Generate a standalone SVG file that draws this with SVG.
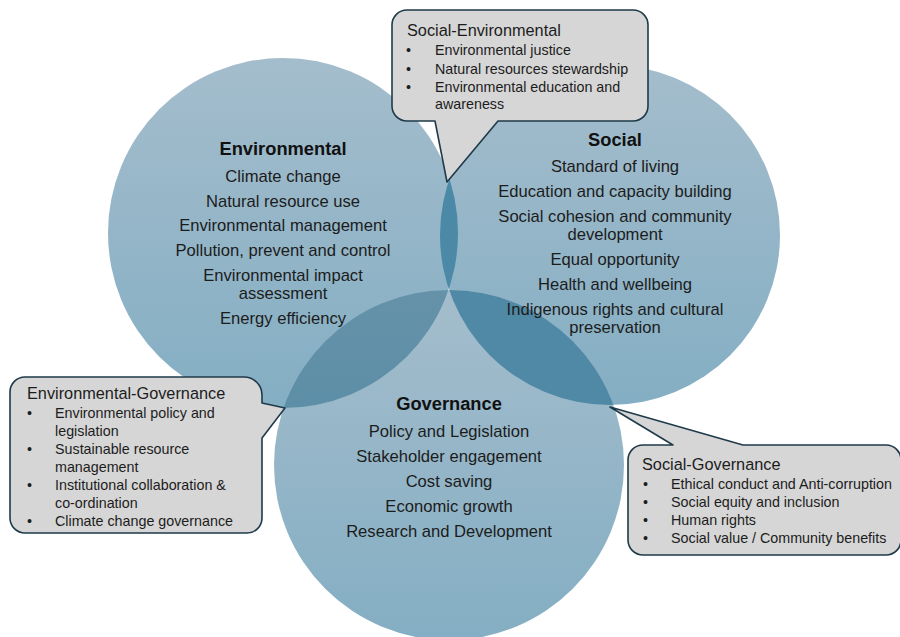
<svg xmlns="http://www.w3.org/2000/svg" width="900" height="637" viewBox="0 0 900 637">
<defs>
<linearGradient id="gc" x1="0" y1="0" x2="0" y2="1">
<stop offset="0" stop-color="#a4bdcc"/>
<stop offset="1" stop-color="#84aec3"/>
</linearGradient>
<linearGradient id="gl" x1="0" y1="0" x2="0" y2="1">
<stop offset="0" stop-color="#6592a9"/>
<stop offset="1" stop-color="#4c87a3"/>
</linearGradient>
<clipPath id="cEnv"><circle cx="283" cy="233" r="175"/></clipPath>
<clipPath id="cSoc"><circle cx="610" cy="235" r="170"/></clipPath>
<clipPath id="cGov"><circle cx="449" cy="465" r="175"/></clipPath>
<style>
text{font-family:"Liberation Sans",Arial,sans-serif;fill:#1c1c1c}
.h{font-size:18.3px;font-weight:bold;text-anchor:middle;fill:#111}
.c{font-size:16.6px;text-anchor:middle}
.t{font-size:16.3px}
.b{font-size:14.3px}
.call{fill:#d6d6d6;stroke:#1f3a4a;stroke-width:1.6;stroke-linejoin:round}
</style>
</defs>
<rect width="900" height="637" fill="#ffffff"/>
<g id="circles">
<circle id="env-circle" cx="283" cy="233" r="175" fill="url(#gc)"/>
<circle id="soc-circle" cx="610" cy="235" r="170" fill="url(#gc)"/>
<circle id="gov-circle" cx="449" cy="465" r="175" fill="url(#gc)"/>
<g clip-path="url(#cEnv)"><circle cx="610" cy="235" r="170" fill="#4b89a6"/></g>
<g clip-path="url(#cEnv)"><circle cx="449" cy="465" r="175" fill="url(#gl)"/></g>
<g clip-path="url(#cSoc)"><circle cx="449" cy="465" r="175" fill="#5089a5"/></g>
</g>
<g id="environmental">
<text class="h" x="283" y="155">Environmental</text>
<text class="c" x="283" y="182">Climate change</text>
<text class="c" x="283" y="207">Natural resource use</text>
<text class="c" x="283" y="231">Environmental management</text>
<text class="c" x="283" y="256">Pollution, prevent and control</text>
<text class="c" x="283" y="281">Environmental impact</text>
<text class="c" x="283" y="299">assessment</text>
<text class="c" x="283" y="324">Energy efficiency</text>
</g>
<g id="social">
<text class="h" x="615" y="146">Social</text>
<text class="c" x="615" y="172">Standard of living</text>
<text class="c" x="615" y="197">Education and capacity building</text>
<text class="c" x="615" y="222">Social cohesion and community</text>
<text class="c" x="615" y="240">development</text>
<text class="c" x="615" y="265">Equal opportunity</text>
<text class="c" x="615" y="290">Health and wellbeing</text>
<text class="c" x="615" y="315">Indigenous rights and cultural</text>
<text class="c" x="615" y="333">preservation</text>
</g>
<g id="governance">
<text class="h" x="449" y="410">Governance</text>
<text class="c" x="449" y="437">Policy and Legislation</text>
<text class="c" x="449" y="462">Stakeholder engagement</text>
<text class="c" x="449" y="487">Cost saving</text>
<text class="c" x="449" y="512">Economic growth</text>
<text class="c" x="449" y="537">Research and Development</text>
</g>
<g id="social-environmental">
<path class="call" d="M407,10 H633 A15,15 0 0 1 648,25 V106 A15,15 0 0 1 633,121 H498 L447,182 L435,121 H407 A15,15 0 0 1 392,106 V25 A15,15 0 0 1 407,10 Z"/>
<text class="t" x="407" y="36">Social-Environmental</text>
<text class="b" x="406" y="55">•</text><text class="b" x="435" y="55">Environmental justice</text>
<text class="b" x="406" y="74">•</text><text class="b" x="435" y="74">Natural resources stewardship</text>
<text class="b" x="406" y="92">•</text><text class="b" x="435" y="92">Environmental education and</text>
<text class="b" x="435" y="109">awareness</text>
</g>
<g id="environmental-governance">
<path class="call" d="M25,377 H244 A18,18 0 0 1 262,395 V403 L285,408 L262,438 V518 A15,15 0 0 1 247,533 H25 A15,15 0 0 1 10,518 V392 A15,15 0 0 1 25,377 Z"/>
<text class="t" x="27" y="399">Environmental-Governance</text>
<text class="b" x="27" y="418">•</text><text class="b" x="55" y="418">Environmental policy and</text>
<text class="b" x="55" y="436">legislation</text>
<text class="b" x="27" y="454">•</text><text class="b" x="55" y="454">Sustainable resource</text>
<text class="b" x="55" y="472">management</text>
<text class="b" x="27" y="490">•</text><text class="b" x="55" y="490">Institutional collaboration &amp;</text>
<text class="b" x="55" y="508">co-ordination</text>
<text class="b" x="27" y="526">•</text><text class="b" x="55" y="526">Climate change governance</text>
</g>
<g id="social-governance">
<path class="call" d="M643,445 H673 L610,407 L743,445 H886 A15,15 0 0 1 901,460 V540 A15,15 0 0 1 886,555 H643 A15,15 0 0 1 628,540 V460 A15,15 0 0 1 643,445 Z"/>
<text class="t" x="642" y="470">Social-Governance</text>
<text class="b" x="643" y="489">•</text><text class="b" x="671" y="489">Ethical conduct and Anti-corruption</text>
<text class="b" x="643" y="507">•</text><text class="b" x="671" y="507">Social equity and inclusion</text>
<text class="b" x="643" y="525">•</text><text class="b" x="671" y="525">Human rights</text>
<text class="b" x="643" y="543">•</text><text class="b" x="671" y="543">Social value / Community benefits</text>
</g>
</svg>
